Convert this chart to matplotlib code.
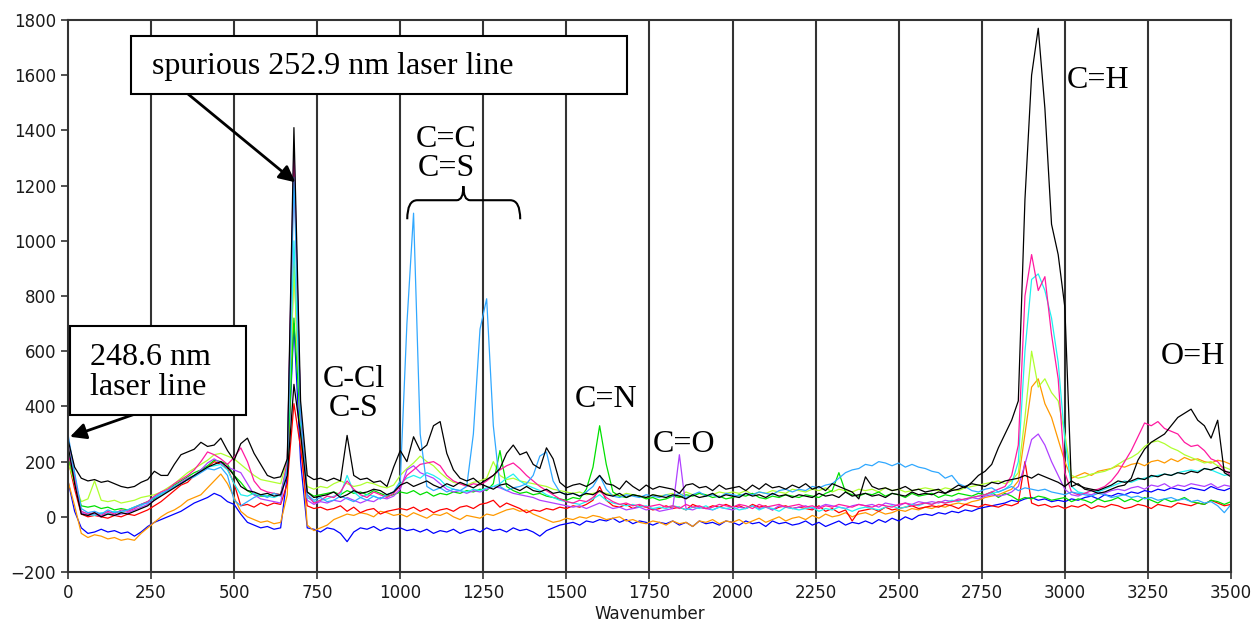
import numpy as np
import matplotlib.pyplot as plt
from matplotlib.path import Path
from matplotlib.patches import PathPatch, Rectangle

# wavenumber grid (every 20 units), one value per point for each spectrum
wavenumber = np.arange(0, 3501, 20)

black_main = [
    280, 180, 140, 130, 135, 125, 130, 120, 110, 105,      # 0-180
    110, 125, 135, 165, 150, 150, 190, 225, 235, 245,      # 200-380
    270, 255, 260, 285, 240, 205, 265, 285, 230, 190,      # 400-580
    150, 140, 145, 210, 1410, 420, 150, 135, 140, 130,     # 600-780
    140, 130, 295, 150, 135, 140, 125, 130, 110, 180,      # 800-980
    240, 200, 290, 240, 260, 330, 345, 230, 170, 140,      # 1000-1180
    130, 140, 120, 135, 150, 175, 230, 260, 225, 235,      # 1200-1380
    190, 175, 250, 210, 125, 105, 115, 120, 110, 125,      # 1400-1580
    150, 120, 115, 100, 130, 110, 95, 115, 100, 110,       # 1600-1780
    105, 100, 85, 115, 120, 105, 110, 95, 115, 100,        # 1800-1980
    105, 110, 95, 115, 100, 120, 105, 110, 100, 115,       # 2000-2180
    105, 120, 100, 110, 95, 120, 110, 100, 90, 65,         # 2200-2380
    145, 110, 100, 105, 95, 100, 110, 95, 100, 90,         # 2400-2580
    95, 100, 85, 100, 115, 105, 125, 150, 165, 190,        # 2600-2780
    250, 300, 350, 420, 1150, 1600, 1770, 1480, 1060, 950,  # 2800-2980
    760, 110, 120, 100, 95, 85, 90, 100, 110, 115,         # 3000-3180
    140, 205, 245, 270, 285, 300, 330, 360, 375, 390,      # 3200-3380
    350, 330, 285, 350, 160, 145,                          # 3400-3500
]

black_low = [
    260, 120, 10, 5, 15, 0, 10, 5, 15, 10,
    20, 30, 40, 60, 75, 90, 105, 120, 135, 150,
    165, 180, 190, 200, 180, 150, 110, 95, 90, 80,
    85, 75, 80, 150, 480, 300, 90, 70, 75, 80,
    90, 70, 80, 95, 85, 90, 100, 95, 80, 90,
    115, 125, 110, 120, 130, 115, 105, 120, 110, 125,
    115, 105, 120, 110, 100, 115, 120, 105, 95, 110,
    95, 90, 100, 85, 90, 80, 85, 75, 85, 80,
    95, 80, 75, 85, 70, 80, 75, 70, 80, 75,
    70, 80, 75, 65, 80, 70, 75, 85, 70, 80,
    75, 70, 85, 75, 80, 70, 85, 75, 80, 70,
    80, 75, 70, 85, 75, 80, 70, 90, 75, 80,
    85, 75, 80, 70, 85, 80, 75, 90, 80, 85,
    80, 90, 85, 95, 100, 110, 120, 115, 110, 125,
    120, 130, 135, 140, 150, 140, 155, 145, 135, 125,
    110, 130, 115, 105, 100, 95, 105, 115, 130, 125,
    130, 140, 135, 150, 145, 155, 150, 160, 155, 165,
    160, 175, 170, 180, 165, 160,
]

sky_blue = [
    300, 160, 30, 15, 20, 10, 25, 15, 20, 25,
    35, 45, 50, 70, 85, 95, 110, 120, 135, 145,
    160, 175, 170, 180, 150, 60, 40, 55, 70, 80,
    70, 85, 75, 180, 1230, 380, 80, 60, 70, 55,
    60, 75, 65, 55, 70, 60, 75, 65, 80, 90,
    130, 700, 1100, 300, 110, 95, 105, 90, 100, 95,
    110, 300, 680, 790, 330, 110, 95, 105, 110, 120,
    150, 220, 235, 130, 90, 80, 85, 75, 90, 110,
    150, 100, 75, 70, 80, 75, 70, 80, 75, 70,
    80, 75, 85, 70, 80, 90, 75, 80, 70, 85,
    80, 75, 85, 80, 90, 85, 80, 95, 100, 90,
    100, 95, 110, 105, 115, 120, 140, 160, 170, 175,
    190, 185, 200, 195, 185, 195, 180, 190, 180, 175,
    165, 160, 140, 150, 120, 110, 95, 90, 100, 105,
    90, 100, 110, 95, 105, 100, 95, 100, 90, 85,
    80, 90, 85, 80, 75, 85, 80, 70, 75, 80,
    70, 75, 65, 70, 60, 65, 70, 60, 65, 55,
    60, 50, 55, 40, 15, 45,
]

cyan = [
    240, 150, 20, 10, 5, 15, 10, 20, 15, 25,
    35, 40, 55, 70, 80, 95, 110, 120, 135, 150,
    165, 180, 185, 190, 170, 120, 80, 75, 85, 80,
    75, 70, 80, 190, 1000, 350, 70, 55, 60, 65,
    75, 80, 150, 90, 70, 80, 75, 65, 80, 90,
    120, 140, 150, 140, 160, 150, 135, 110, 100, 95,
    90, 100, 95, 105, 110, 120, 140, 155, 130, 115,
    105, 95, 80, 70, 60, 55, 50, 45, 55, 65,
    80, 60, 50, 45, 40, 45, 35, 40, 30, 35,
    30, 40, 35, 25, 35, 30, 40, 25, 35, 30,
    35, 25, 30, 40, 25, 35, 30, 20, 35, 30,
    25, 30, 35, 20, 30, 25, 35, 30, 20, 30,
    35, 30, 25, 35, 40, 30, 35, 45, 40, 50,
    45, 55, 50, 60, 55, 65, 70, 75, 80, 85,
    90, 100, 120, 200, 600, 860, 880, 820, 720, 560,
    280, 110, 90, 85, 95, 90, 100, 110, 120, 130,
    125, 135, 140, 145, 150, 155, 150, 160, 165, 170,
    165, 175, 170, 160, 150, 155,
]

pink = [
    230, 140, 20, 10, 15, 5, 20, 10, 25, 20,
    30, 45, 55, 75, 90, 100, 120, 135, 150, 170,
    200, 235, 225, 210, 190, 215, 250, 200, 130, 100,
    90, 85, 80, 200, 1290, 380, 80, 50, 60, 75,
    70, 90, 130, 100, 80, 70, 90, 80, 70, 85,
    110, 150, 170, 190, 195, 200, 185, 150, 130, 120,
    110, 120, 115, 130, 150, 170, 185, 195, 175, 150,
    130, 110, 95, 80, 65, 55, 50, 60, 55, 70,
    95, 70, 55, 45, 50, 40, 45, 35, 40, 45,
    35, 40, 30, 45, 35, 40, 30, 35, 45, 40,
    35, 45, 40, 30, 45, 35, 40, 45, 35, 40,
    45, 35, 40, 30, 40, 35, 45, 40, 35, 45,
    40, 35, 45, 40, 35, 45, 50, 40, 45, 50,
    45, 55, 50, 55, 60, 65, 70, 75, 80, 90,
    100, 110, 150, 260, 800, 950, 820, 870, 660, 500,
    160, 90, 80, 85, 95, 100, 110, 130, 160, 200,
    240, 290, 340, 330, 345, 320, 310, 300, 270, 255,
    260, 240, 210, 200, 170, 150,
]

purple = [
    290, 150, 15, 5, 10, 0, 15, 5, 10, 15,
    25, 35, 45, 60, 80, 95, 110, 125, 140, 150,
    170, 195, 210, 195, 180, 170, 160, 120, 80, 65,
    60, 55, 50, 190, 1345, 370, 60, 45, 55, 50,
    60, 55, 70, 60, 50, 60, 55, 70, 65, 75,
    100, 170, 185, 160, 150, 140, 120, 100, 90, 95,
    85, 95, 90, 100, 110, 105, 95, 85, 80, 75,
    70, 60, 55, 50, 45, 40, 35, 40, 30, 40,
    50, 40, 30, 35, 25, 30, 35, 25, 30, 20,
    25, 30, 225, 30, 25, 35, 30, 25, 35, 30,
    25, 35, 30, 40, 30, 35, 25, 40, 35, 30,
    35, 40, 30, 35, 45, 40, 35, 30, 40, 45,
    40, 45, 35, 50, 45, 40, 50, 45, 55, 50,
    55, 50, 60, 55, 65, 60, 70, 65, 75, 80,
    75, 80, 90, 110, 190, 280, 300, 260, 200, 150,
    100, 80, 75, 85, 80, 90, 85, 95, 100, 95,
    105, 110, 100, 115, 110, 120, 105, 115, 110, 120,
    115, 110, 120, 105, 115, 110,
]

green = [
    220, 130, 40, 35, 40, 30, 35, 25, 30, 25,
    35, 45, 55, 65, 80, 95, 115, 130, 145, 160,
    170, 185, 205, 200, 190, 150, 125, 95, 80, 75,
    75, 85, 80, 180, 720, 330, 90, 75, 80, 85,
    90, 80, 95, 85, 90, 80, 95, 85, 75, 80,
    90, 85, 95, 80, 90, 75, 85, 80, 90, 85,
    95, 90, 100, 95, 120, 240, 110, 95, 85, 90,
    80, 85, 75, 70, 65, 60, 70, 65, 100, 180,
    330, 190, 90, 75, 70, 80, 75, 65, 70, 60,
    65, 75, 70, 80, 75, 85, 80, 70, 75, 65,
    70, 80, 75, 85, 70, 65, 75, 70, 80, 75,
    70, 80, 75, 70, 85, 95, 160, 90, 80, 75,
    85, 80, 90, 75, 85, 80, 70, 85, 75, 80,
    85, 70, 80, 75, 85, 80, 75, 85, 80, 90,
    70, 85, 75, 60, 70, 65, 75, 70, 60, 65,
    70, 55, 65, 60, 50, 65, 55, 60, 70, 55,
    65, 55, 70, 60, 50, 65, 55, 60, 70, 55,
    50, 45, 60, 55, 45, 55,
]

yellow_green = [
    200, 120, 55, 65, 130, 60, 55, 60, 50, 55,
    60, 70, 75, 80, 90, 105, 120, 140, 160, 175,
    190, 205, 225, 230, 220, 210, 190, 170, 150, 135,
    130, 125, 120, 210, 900, 360, 110, 100, 110, 105,
    120, 130, 120, 110, 115, 125, 120, 110, 105, 115,
    150, 175, 195, 220, 200, 185, 160, 140, 125, 120,
    115, 125, 130, 140, 200, 150, 135, 140, 130, 125,
    120, 115, 110, 100, 95, 90, 85, 90, 80, 85,
    90, 85, 80, 75, 85, 80, 75, 70, 80, 75,
    80, 85, 75, 90, 80, 85, 75, 80, 90, 85,
    90, 85, 95, 80, 90, 85, 95, 90, 85, 100,
    95, 90, 100, 95, 105, 90, 100, 95, 90, 100,
    95, 100, 90, 105, 95, 100, 90, 95, 100, 105,
    100, 95, 105, 100, 95, 105, 110, 115, 120, 125,
    130, 120, 130, 160, 360, 600, 470, 500, 450, 420,
    300, 150, 140, 145, 155, 160, 165, 175, 190, 205,
    215, 230, 255, 270, 275, 265, 250, 240, 225, 215,
    205, 195, 200, 185, 180, 170,
]

orange = [
    130, 40, -60, -75, -65, -70, -80, -75, -85, -80,
    -85, -60, -40, -20, 0, 15, 25, 40, 60, 70,
    80, 105, 130, 155, 120, 70, 20, 0, -10, -20,
    -15, -25, -20, 80, 930, 300, -30, -50, -40, -30,
    -10, 0, 10, 5, 15, 10, 0, 20, 15, 5,
    10, 0, 15, 5, -5, 10, 5, 15, 0, -10,
    5, 0, -5, 10, 5, 15, 25, 30, 20, 25,
    10, 0, -10, -20, -15, -5, -10, 0, -5, 5,
    0, -10, -5, 0, -15, -10, -20, -25, -15, -20,
    -30, -15, -25, -20, -35, -15, -20, -10, -25, -15,
    -20, -10, -25, -15, -5, -20, -10, 0, -15, -5,
    0, -10, 5, -5, 10, 0, 5, 15, 0, 10,
    15, 5, 20, 10, 15, 25, 20, 30, 25, 35,
    30, 40, 35, 45, 50, 45, 55, 60, 70, 75,
    80, 90, 100, 130, 300, 470, 500, 410, 360, 280,
    200, 140, 150, 160, 150, 165, 170, 175, 185, 180,
    190, 195, 185, 200, 205, 195, 210, 200, 215, 205,
    210, 200, 195, 205, 200, 190,
]

red = [
    210, 100, 10, 0, 5, 0, -5, 5, 0, 10,
    5, 15, 25, 40, 55, 75, 95, 115, 125, 150,
    165, 180, 200, 190, 175, 120, 40, 45, 35, 50,
    40, 50, 45, 120, 410, 250, 40, 30, 35, 25,
    30, 40, 20, 35, 15, 25, 30, 10, 20, 25,
    30, 25, 35, 20, 30, 15, 25, 30, 20, 35,
    40, 30, 45, 50, 60, 35, 50, 40, 30, 15,
    25, 20, 30, 25, 35, 30, 40, 35, 45, 60,
    110, 60, 40, 35, 45, 30, 40, 35, 25, 30,
    40, 30, 35, 25, 45, 35, 30, 40, 35, 45,
    35, 40, 30, 45, 35, 40, 25, 35, 40, 30,
    35, 30, 25, 40, 20, 30, 15, 25, -15, 20,
    25, 30, 20, 35, 25, 30, 35, 40, 30, 35,
    40, 35, 45, 40, 30, 45, 40, 35, 45, 40,
    35, 45, 40, 50, 200, 50, 40, 45, 35, 40,
    30, 40, 35, 45, 30, 40, 35, 45, 40, 30,
    35, 45, 40, 30, 45, 40, 35, 50, 45, 40,
    50, 45, 60, 50, 40, 45,
]

blue = [
    130, 20, -40, -60, -55, -45, -55, -50, -60, -55,
    -70, -55, -35, -20, -10, 0, 10, 20, 35, 50,
    60, 70, 85, 75, 55, 45, 10, -20, -30, -40,
    -35, -45, -40, 150, 700, 200, -40, -45, -55, -40,
    -45, -60, -90, -55, -40, -45, -35, -50, -40, -45,
    -40, -50, -45, -55, -45, -60, -50, -55, -45, -60,
    -50, -45, -55, -40, -50, -45, -55, -40, -50, -45,
    -55, -70, -50, -40, -30, -25, -20, -30, -15, -20,
    -10, -15, -5, -20, -10, -25, -15, -20, -30, -20,
    -25, -15, -30, -20, -35, -15, -25, -20, -30, -15,
    -20, -30, -15, -25, -20, -35, -15, -25, -20, -30,
    -25, -15, -30, -20, -35, -25, -15, -30, -20, -25,
    -15, -25, -10, -20, -5, -15, 0, -10, 5, 10,
    5, 15, 10, 20, 15, 25, 20, 30, 35, 40,
    45, 50, 60, 55, 65, 70, 60, 65, 55, 60,
    55, 65, 60, 70, 75, 65, 80, 75, 85, 80,
    90, 85, 95, 90, 100, 95, 105, 100, 95, 105,
    100, 95, 110, 100, 95, 105,
]

series = [
    (blue, '#0000ff'),
    (orange, '#ff9900'),
    (red, '#ff0000'),
    (yellow_green, '#b0ff30'),
    (green, '#00e000'),
    (purple, '#b040ff'),
    (cyan, '#20f0f0'),
    (pink, '#ff1aa0'),
    (sky_blue, '#30a8ff'),
    (black_low, '#000000'),
    (black_main, '#000000'),
]

fig = plt.figure(figsize=(12.52, 6.38), dpi=100)
ax = fig.add_axes([0.0543, 0.1034, 0.9289, 0.8653])

for vals, col in series:
    ax.plot(wavenumber, vals, color=col, lw=0.9)

ax.set_xlim(0, 3500)
ax.set_ylim(-200, 1800)
ax.set_xticks(np.arange(0, 3501, 250))
ax.set_yticks(np.arange(-200, 1801, 200))
for xv in np.arange(250, 3500, 250):
    ax.axvline(xv, color='#333333', lw=1.5, zorder=0)
for sp in ax.spines.values():
    sp.set_color('#333333')
    sp.set_linewidth(1.5)
ax.tick_params(labelsize=12, colors='#333333', labelcolor='#1a1a1a', length=5, width=1.2)
ax.set_xlabel('Wavenumber', fontsize=12, color='#1a1a1a', labelpad=2)

serif = 'Liberation Serif'
arrow = dict(arrowstyle='-|>', color='black', lw=2, mutation_scale=24, shrinkA=0, shrinkB=0)

# boxed note: spurious laser line
ax.add_patch(Rectangle((190, 1532), 1491, 210, fc='white', ec='black', lw=1.5, zorder=6))
ax.text(253, 1632, 'spurious 252.9 nm laser line', family=serif, fontsize=23,
        ha='left', va='center', zorder=7)
ax.annotate('', xy=(684, 1212), xytext=(361, 1532), arrowprops=arrow, zorder=5)

# boxed note: main laser line
ax.add_patch(Rectangle((6, 370), 530, 323, fc='white', ec='black', lw=1.5, zorder=6))
ax.text(66, 523, '248.6 nm\nlaser line', family=serif, fontsize=23, linespacing=1.05,
        ha='left', va='center', zorder=7)
ax.annotate('', xy=(6, 290), xytext=(196, 370), arrowprops=arrow, zorder=5)

labels = ['C-Cl\nC-S', 'C=C\nC=S', 'C=N', 'C=O', 'C=H', 'O=H']
label_pos = [(861, 446), (1139, 1314), (1620, 425), (1855, 261), (3099, 1579), (3386, 581)]
for txt, (lx, ly) in zip(labels, label_pos):
    ax.text(lx, ly, txt, family=serif, fontsize=23, ha='center', va='center',
            linespacing=1.0, zorder=6)

# curly brace above the C=C / C=S peaks
verts = [(1021, 1078), (1021, 1147), (1051, 1147), (1170, 1147), (1190, 1147), (1190, 1198),
         (1190, 1147), (1210, 1147), (1331, 1147), (1361, 1147), (1361, 1078)]
codes = [Path.MOVETO, Path.CURVE3, Path.CURVE3, Path.LINETO, Path.CURVE3, Path.CURVE3,
         Path.CURVE3, Path.CURVE3, Path.LINETO, Path.CURVE3, Path.CURVE3]
ax.add_patch(PathPatch(Path(verts, codes), fc='none', ec='black', lw=1.5, zorder=6))

fig.savefig('out.png', dpi=100)
